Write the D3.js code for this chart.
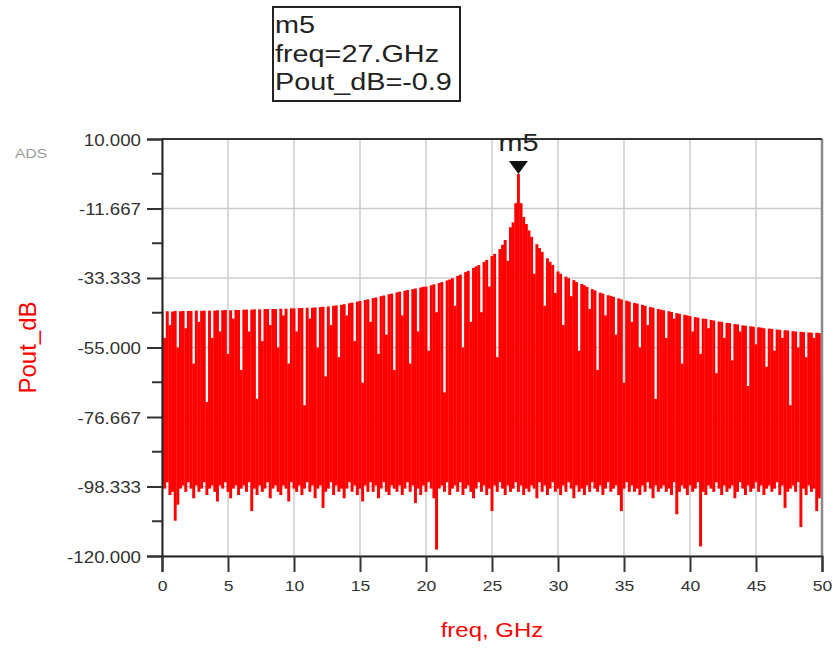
<!DOCTYPE html>
<html>
<head>
<meta charset="utf-8">
<script src="https://cdn.jsdelivr.net/npm/d3@7"></script>
<style>
  html, body { margin: 0; padding: 0; background: #fff; }
  svg { display: block; }
  text { font-family: "Liberation Sans", Arial, Helvetica, sans-serif; }
</style>
</head>
<body>
<svg id="chart" width="837" height="651"></svg>
<script>
// Spectrum of Pout_dB, one spectral bin every 0.2 GHz from 0 to 50 GHz.
const freqStepGHz = 0.2;

// Top of each bin (dB)
const binTop = [
  -43.8, -52, -43.7, -48, -43.8, -43.6, -55, -43.7, -43.6, -49,
  -43.6, -43.6, -60, -43.5, -47, -43.6, -43.5, -72, -43.5, -52,
  -43.5, -43.4, -50, -43.4, -43.3, -57, -43.4, -46, -43.3, -43.3,
  -62, -43.2, -43.2, -50, -43.2, -43.1, -71, -43.1, -53, -43.0,
  -43.0, -48, -43.0, -43.0, -55, -42.9, -45, -42.9, -60, -42.8,
  -42.8, -50, -42.7, -42.7, -73, -42.6, -46, -42.6, -42.5, -55,
  -42.4, -42.3, -64, -42.2, -48, -42.0, -41.9, -58, -41.7, -41.5,
  -45, -41.2, -41.0, -53, -40.7, -40.5, -66, -40.2, -40.0, -47,
  -39.6, -39.4, -57, -39.0, -38.8, -51, -38.4, -38.2, -62, -37.8,
  -37.6, -45, -37.3, -37.1, -60, -36.8, -36.6, -50, -36.3, -36.1,
  -36.0, -56, -35.6, -35.3, -44, -34.9, -34.6, -69, -34.1, -33.8,
  -33.4, -42, -32.7, -32.3, -55, -31.5, -31.1, -47, -30.2, -29.7,
  -29.3, -44, -28.3, -27.7, -36, -26.5, -25.8, -58, -24.3, -23.0,
  -21.5, -28, -17.5, -16.0, -10.0, -0.9, -10.0, -14.3, -16.5, -18.5,
  -20.5, -32, -22.8, -24.0, -25.2, -42, -27.2, -28.3, -29.3, -38,
  -31.3, -32.0, -48, -32.9, -33.4, -39, -34.0, -34.6, -56, -35.2,
  -35.6, -36.1, -43, -36.8, -37.2, -62, -37.9, -38.2, -45, -38.7,
  -38.9, -39.2, -51, -39.7, -40.0, -66, -40.4, -40.7, -47, -41.1,
  -41.3, -55, -41.7, -42.0, -48, -42.4, -42.6, -71, -43.0, -43.2,
  -43.4, -52, -43.7, -43.9, -46, -44.3, -44.5, -60, -44.8, -45.0,
  -45.2, -50, -45.5, -45.7, -57, -46.0, -46.1, -49, -46.4, -46.6,
  -63, -46.9, -47.0, -52, -47.3, -47.4, -59, -47.7, -47.8, -50,
  -48.1, -48.2, -67, -48.4, -48.5, -54, -48.7, -48.8, -49, -61,
  -49.1, -49.2, -56, -49.4, -49.5, -52, -49.6, -49.7, -73, -49.9,
  -50.0, -55, -50.1, -50.2, -58, -50.3, -50.4, -52, -50.4, -50.5, -62
];

// Bottom of each bin (dB)
const binBottom = [
  -98, -99, -97, -101, -100, -109, -104, -99, -98, -100,
  -97, -99, -102, -98, -100, -99, -97, -101, -99, -98,
  -100, -103, -98, -99, -97, -100, -102, -99, -98, -101,
  -99, -98, -100, -97, -106, -99, -101, -98, -100, -99,
  -97, -102, -99, -98, -100, -101, -98, -99, -103, -97,
  -99, -100, -98, -101, -99, -97, -100, -98, -102, -99,
  -98, -105, -100, -99, -97, -101, -98, -100, -99, -102,
  -99, -97, -100, -98, -101, -99, -103, -98, -100, -97,
  -100, -98, -102, -99, -97, -100, -101, -98, -99, -100,
  -98, -101, -99, -97, -100, -98, -103.5, -99, -101, -98,
  -100, -97, -99, -102, -118, -99, -98, -100, -97, -101,
  -99, -98, -100, -97, -101, -99, -98, -100, -102, -99,
  -97, -100, -98, -101, -99, -106, -98, -100, -97, -99,
  -101, -98, -100, -99, -97, -100, -98, -101, -99, -100,
  -98, -99, -102, -97, -100, -98, -101, -99, -97, -100,
  -99, -101, -98, -100, -97, -99, -102, -98, -100, -99,
  -101, -98, -100, -97, -99, -100, -98, -101, -99, -97,
  -100, -99, -98, -101, -106, -99, -97, -100, -98, -100,
  -99, -101, -98, -100, -97, -99, -102, -98, -100, -99,
  -98, -100, -99, -101, -97, -107, -100, -98, -99, -101,
  -98, -100, -99, -97, -117, -100, -101, -98, -99, -100,
  -97, -99, -101, -98, -100, -99, -98, -102, -100, -97,
  -99, -101, -98, -100, -99, -97, -100, -98, -101, -99,
  -98, -100, -99, -97, -101, -98, -105, -100, -99, -98,
  -100, -97, -111, -99, -101, -98, -100, -99, -106, -102, -98
];

const xTicks = [0, 5, 10, 15, 20, 25, 30, 35, 40, 45, 50];
const yTicks = [10, -11.667, -33.333, -55, -76.667, -98.333, -120];
const yTickLabels = ["10.000", "-11.667", "-33.333", "-55.000", "-76.667", "-98.333", "-120.000"];

// Marker m5
const markerName = "m5";
const markerFreq = 27;
const markerValue = -0.9;
const markerLines = ["m5", "freq=27.GHz", "Pout_dB=-0.9"];

const bins = binTop.map((top, i) => ({
  f: +(i * freqStepGHz).toFixed(1),
  top: top,
  bottom: binBottom[i]
}));

const svg = d3.select("#chart");
const plot = { left: 162, right: 822, top: 139, bottom: 556 };

const x = d3.scaleLinear().domain([0, 50]).range([plot.left, plot.right]);
const y = d3.scaleLinear().domain([-120, 10]).range([plot.bottom, plot.top]);

const textStretch = 1.17;
const red = "#ff0000";

// Grid
const grid = svg.append("g");
grid.selectAll("line.v").data(xTicks).join("line")
  .attr("x1", d => x(d)).attr("x2", d => x(d))
  .attr("y1", plot.top).attr("y2", plot.bottom)
  .attr("stroke", "#cccccc").attr("stroke-width", 1.5);
grid.selectAll("line.h").data(yTicks).join("line")
  .attr("x1", plot.left).attr("x2", plot.right)
  .attr("y1", d => y(d)).attr("y2", d => y(d))
  .attr("stroke", "#cccccc").attr("stroke-width", 1.5);

// Spectrum bins
svg.append("clipPath").attr("id", "plotClip").append("rect")
  .attr("x", plot.left).attr("y", plot.top)
  .attr("width", plot.right - plot.left).attr("height", plot.bottom - plot.top);

const binW = x(freqStepGHz) - x(0);
svg.append("g").attr("clip-path", "url(#plotClip)")
  .selectAll("rect").data(bins).join("rect")
  .attr("x", d => x(d.f) - binW / 2 - 0.15)
  .attr("width", binW + 0.3)
  .attr("y", d => y(d.top))
  .attr("height", d => y(d.bottom) - y(d.top))
  .attr("fill", red);

// Frame
svg.append("line").attr("x1", plot.right).attr("x2", plot.right)
  .attr("y1", plot.top).attr("y2", plot.bottom)
  .attr("stroke", "#8a8a8a").attr("stroke-width", 2.5);
svg.append("line").attr("x1", plot.left).attr("x2", plot.right)
  .attr("y1", plot.top).attr("y2", plot.top)
  .attr("stroke", "#333").attr("stroke-width", 2);

// Axes
const yAxis = d3.axisLeft(y).tickValues(yTicks).tickSize(15).tickPadding(4)
  .tickFormat((d, i) => yTickLabels[i]);
const gy = svg.append("g").attr("transform", `translate(${plot.left},0)`).call(yAxis);
gy.select(".domain").attr("stroke", "#222").attr("stroke-width", 2);
gy.selectAll(".tick line").attr("stroke", "#333").attr("stroke-width", 2);
gy.selectAll(".tick text")
  .attr("fill", "#333").attr("font-size", 16)
  .attr("x", null).attr("dy", null)
  .attr("transform", `translate(-21,6) scale(${textStretch},1)`);

const yMinor = d3.pairs(yTicks).map(p => (p[0] + p[1]) / 2);
svg.append("g").selectAll("line").data(yMinor).join("line")
  .attr("x1", plot.left - 10).attr("x2", plot.left)
  .attr("y1", d => y(d)).attr("y2", d => y(d))
  .attr("stroke", "#333").attr("stroke-width", 2);

const xAxis = d3.axisBottom(x).tickValues(xTicks).tickSize(16).tickFormat(d3.format("d"));
const gx = svg.append("g").attr("transform", `translate(0,${plot.bottom})`).call(xAxis);
gx.select(".domain").attr("stroke", "#222").attr("stroke-width", 2);
gx.selectAll(".tick line").attr("stroke", "#333").attr("stroke-width", 2);
gx.selectAll(".tick text")
  .attr("fill", "#333").attr("font-size", 15)
  .attr("y", null).attr("dy", null)
  .attr("transform", `translate(0,35) scale(${textStretch},1)`);

// Axis titles
svg.append("text")
  .attr("transform", `translate(${(plot.left + plot.right) / 2},637) scale(1.2,1)`)
  .attr("text-anchor", "middle").attr("font-size", 20).attr("fill", red)
  .text("freq, GHz");
svg.append("text")
  .attr("transform", `translate(36,${(plot.top + plot.bottom) / 2}) rotate(-90) scale(1.2,1.17)`)
  .attr("text-anchor", "middle").attr("font-size", 20).attr("fill", red)
  .text("Pout_dB");

svg.append("text")
  .attr("transform", `translate(15,158) scale(1.3,1)`)
  .attr("font-size", 12).attr("fill", "#9a9a9a")
  .text("ADS");

// Marker triangle and name
const mx = x(markerFreq), my = y(markerValue);
svg.append("path")
  .attr("d", `M${mx - 9.5},${my - 13} L${mx + 9.5},${my - 13} L${mx},${my} Z`)
  .attr("fill", "#111");
svg.append("text")
  .attr("transform", `translate(${mx},151) scale(1.2,1)`)
  .attr("text-anchor", "middle").attr("font-size", 24).attr("fill", "#222")
  .text(markerName);

// Marker readout box
svg.append("rect")
  .attr("x", 273).attr("y", 7).attr("width", 187).attr("height", 94)
  .attr("fill", "#fff").attr("stroke", "#222").attr("stroke-width", 2);
svg.append("g").selectAll("text").data(markerLines).join("text")
  .attr("transform", (d, i) => `translate(275,${33 + i * 28.5}) scale(1.2,1)`)
  .attr("font-size", 24).attr("fill", "#222")
  .text(d => d);
</script>
</body>
</html>
